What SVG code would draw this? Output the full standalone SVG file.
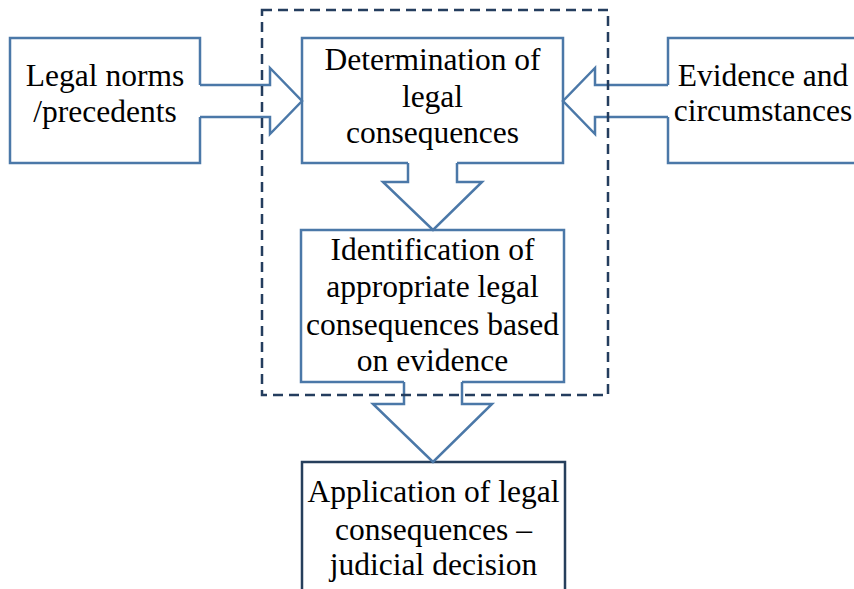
<svg xmlns="http://www.w3.org/2000/svg" width="854" height="589" viewBox="0 0 854 589">
<style>
.b{fill:none;stroke:#4b78a8;stroke-width:2.5;stroke-linejoin:miter}
.d{fill:none;stroke:#263f5c;stroke-width:2.5}
.g{fill:none;stroke:#243d5e;stroke-dasharray:10 6;stroke-width:2.5}
text{font-family:"Liberation Serif","Times New Roman",serif;font-size:31.5px;fill:#000;text-anchor:middle}
</style>
<rect width="854" height="589" fill="#fff"/>
<g id="left"><path class="b" d="M200,85 V38 H10 V163 H200 V117"/><text x="105" y="86">Legal norms</text><text x="105" y="122">/precedents</text></g>
<g id="right"><path class="b" d="M668,85 V38 H860 V163 H668 V117"/><text x="763" y="86">Evidence and</text><text x="763" y="121">circumstances</text></g>
<g id="determination"><path class="b" d="M408,163 H302 V38 H563 V163 H457"/><text x="432.5" y="70">Determination of</text><text x="432.5" y="107">legal</text><text x="432.5" y="143">consequences</text></g>
<g id="identification"><path class="b" d="M404,382 H301 V230 H564 V382 H462"/><text x="432.5" y="260">Identification of</text><text x="432.5" y="297">appropriate legal</text><text x="432.5" y="335">consequences based</text><text x="432.5" y="371">on evidence</text></g>
<g id="application"><path class="d" d="M302,595 V462 H565 V595"/><text x="433.5" y="502">Application of legal</text><text x="433.5" y="540">consequences –</text><text x="433.5" y="575">judicial decision</text></g>
<g id="connectors">
<path class="b" d="M200,85 H270 V68 L302,101 L270,134 V117 H200"/>
<path class="b" d="M668,85 H595 V68 L563,101 L595,134 V117 H668"/>
<path class="b" d="M408,163 V182 H383 L433,230 L482,182 H457 V163"/>
<path class="b" d="M404,382 V404 H373 L433,462 L492,404 H462 V382"/>
</g>
<g id="group"><rect class="g" x="262" y="10" width="346" height="385"/></g>
</svg>
